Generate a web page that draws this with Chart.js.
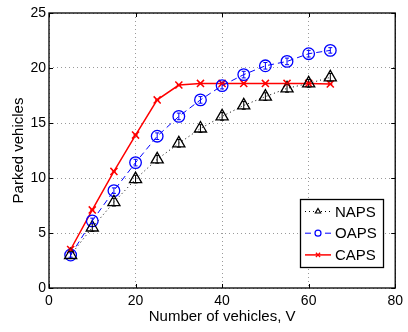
<!DOCTYPE html>
<html>
<head>
<meta charset="utf-8">
<script src="https://cdn.jsdelivr.net/npm/chart.js@4/dist/chart.umd.min.js"></script>
<style>
html,body{margin:0;padding:0;background:#fff;}
#wrap{width:408px;height:332px;position:relative;}
</style>
</head>
<body>
<div id="wrap"><canvas id="c" width="408" height="332"></canvas></div>
<script>
const vehicles = [5,10,15,20,25,30,35,40,45,50,55,60,65];
const naps = [3.0,5.5,7.8,9.9,11.7,13.15,14.5,15.6,16.6,17.4,18.15,18.6,19.15];
const oaps = [3.0,6.1,8.85,11.4,13.8,15.6,17.1,18.4,19.4,20.2,20.6,21.3,21.6];
const caps = [3.5,7.1,10.6,13.9,17.1,18.45,18.6,18.6,18.6,18.6,18.6,18.6,18.55];
const napsErr = [0.3,0.35,0.35,0.35,0.35,0.35,0.35,0.35,0.35,0.35,0.35,0.35,0.35];
const oapsErr = [0.2,0.25,0.25,0.3,0.3,0.3,0.3,0.3,0.3,0.3,0.3,0.3,0.25];
const capsErr = [0.05,0.05,0.05,0.05,0.05,0.05,0.05,0.05,0.05,0.05,0.05,0.05,0.05];
const xTicks = [0,20,40,60,80];
const yTicks = [0,5,10,15,20,25];
const seriesNames = ['NAPS','OAPS','CAPS'];

const FONT = '"Liberation Sans", Arial, Helvetica, sans-serif';
const toPts = ys => vehicles.map((v,i)=>({x:v,y:ys[i]}));
const errs = [napsErr, oapsErr, capsErr];

const extras = {
  id:'extras',
  afterDatasetsDraw(chart){
    const {ctx, chartArea:a, scales:{x,y}} = chart;
    ctx.save();
    // error bars
    chart.data.datasets.forEach((ds,di)=>{
      ctx.strokeStyle = ds.borderColor; ctx.lineWidth = 1; ctx.setLineDash([]);
      ds.data.forEach((p,i)=>{
        const px = x.getPixelForValue(p.x);
        const e = errs[di][i];
        const y1 = y.getPixelForValue(p.y - e), y2 = y.getPixelForValue(p.y + e);
        ctx.beginPath();
        ctx.moveTo(px, y1); ctx.lineTo(px, y2);
        ctx.moveTo(px-2, y1); ctx.lineTo(px+2, y1);
        ctx.moveTo(px-2, y2); ctx.lineTo(px+2, y2);
        ctx.stroke();
      });
    });
    // frame
    ctx.strokeStyle = '#000'; ctx.lineWidth = 1.3;
    ctx.strokeRect(a.left, a.top, a.right-a.left, a.bottom-a.top);
    // inward ticks
    ctx.lineWidth = 1;
    xTicks.forEach(t=>{
      const px = Math.round(x.getPixelForValue(t))+0.5;
      ctx.beginPath();
      ctx.moveTo(px,a.bottom); ctx.lineTo(px,a.bottom-4);
      ctx.moveTo(px,a.top); ctx.lineTo(px,a.top+4);
      ctx.stroke();
    });
    yTicks.forEach(t=>{
      const py = Math.round(y.getPixelForValue(t))+0.5;
      ctx.beginPath();
      ctx.moveTo(a.left,py); ctx.lineTo(a.left+4,py);
      ctx.moveTo(a.right,py); ctx.lineTo(a.right-4,py);
      ctx.stroke();
    });
    // legend
    const lx = 300, ly = 199, lw = 83, lh = 68;
    ctx.fillStyle = '#fff';
    ctx.fillRect(lx, ly, lw, lh);
    ctx.strokeStyle = '#000'; ctx.lineWidth = 1.3;
    ctx.strokeRect(lx+0.5, ly+0.5, lw, lh);
    ctx.font = '15px ' + FONT;
    ctx.textBaseline = 'middle';
    chart.data.datasets.forEach((ds,i)=>{
      const cy = ly + 12.5 + i*21.7;
      ctx.strokeStyle = ds.borderColor;
      ctx.lineWidth = ds.borderWidth;
      ctx.setLineDash(ds.borderDash || []);
      ctx.beginPath(); ctx.moveTo(lx+5, cy); ctx.lineTo(lx+31, cy); ctx.stroke();
      ctx.setLineDash([]);
      ctx.lineWidth = 1.2;
      ctx.fillStyle = '#fff';
      Chart.helpers.drawPoint(ctx, {pointStyle: ds.pointStyle, radius: 3, borderWidth:1.2}, lx+18, cy);
      ctx.fillStyle = '#000';
      ctx.fillText(seriesNames[i], lx+35, cy+1);
    });
    ctx.restore();
  }
};

new Chart(document.getElementById('c'), {
  type:'line',
  data:{
    datasets:[
      {label:seriesNames[0], data:toPts(naps), borderColor:'#000', backgroundColor:'rgba(0,0,0,0)',
       borderWidth:1, borderDash:[1,3], pointStyle:'triangle', pointRadius:7, pointBorderWidth:1.3, tension:0},
      {label:seriesNames[1], data:toPts(oaps), borderColor:'#0000ff', backgroundColor:'rgba(0,0,0,0)',
       borderWidth:1, borderDash:[6,4], pointStyle:'circle', pointRadius:5.8, pointBorderWidth:1.3, tension:0},
      {label:seriesNames[2], data:toPts(caps), borderColor:'#ff0000', backgroundColor:'rgba(0,0,0,0)',
       borderWidth:1.5, pointStyle:'crossRot', pointRadius:5, pointBorderWidth:1.5, tension:0}
    ]
  },
  options:{
    responsive:false, animation:false,
    layout:{padding:{left:0, top:13, right:9, bottom:0}},
    plugins:{legend:{display:false}, tooltip:{enabled:false}},
    scales:{
      x:{type:'linear', min:0, max:80,
         afterBuildTicks(s){ s.ticks = xTicks.map(v=>({value:v})); },
         afterFit(s){ s.height = 44; },
         grid:{color:'#9a9a9a', lineWidth:1, drawTicks:false},
         border:{display:false, dash:[1,3]},
         ticks:{color:'#000', font:{family:FONT, size:14}, padding:5, maxRotation:0},
         title:{display:true, text:'Number of vehicles, V', color:'#000', font:{family:FONT, size:15}, padding:{top:0,bottom:6}}
      },
      y:{type:'linear', min:0, max:25,
         afterBuildTicks(s){ s.ticks = yTicks.map(v=>({value:v})); },
         afterFit(s){ s.width = 49; },
         grid:{color:'#9a9a9a', lineWidth:1, drawTicks:false},
         border:{display:false, dash:[1,3]},
         ticks:{color:'#000', font:{family:FONT, size:14}, padding:3},
         title:{display:true, text:'Parked vehicles', color:'#000', font:{family:FONT, size:15}, padding:{top:10,bottom:0}}
      }
    }
  },
  plugins:[extras]
});
</script>
</body>
</html>
